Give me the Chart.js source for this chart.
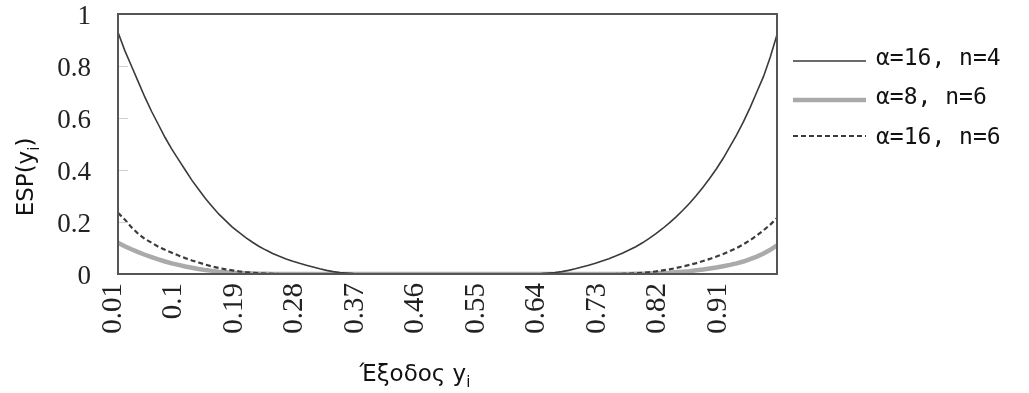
<!DOCTYPE html>
<html>
<head>
  <meta charset="utf-8">
  <script src="https://cdn.jsdelivr.net/npm/chart.js@4"></script>
  <style>
    body { margin: 0; background: #fff; }
    #wrap { width: 1029px; height: 393px; }
  </style>
</head>
<body>
<div id="wrap"><canvas id="espChart" width="1029" height="393"></canvas></div>
<script>
  // x categories: output y from 0.01 to 0.99
  const outputs = [
    '0.01','0.02','0.03','0.04','0.05','0.06','0.07','0.08','0.09','0.1',
    '0.11','0.12','0.13','0.14','0.15','0.16','0.17','0.18','0.19','0.2',
    '0.21','0.22','0.23','0.24','0.25','0.26','0.27','0.28','0.29','0.3',
    '0.31','0.32','0.33','0.34','0.35','0.36','0.37','0.38','0.39','0.4',
    '0.41','0.42','0.43','0.44','0.45','0.46','0.47','0.48','0.49','0.5',
    '0.51','0.52','0.53','0.54','0.55','0.56','0.57','0.58','0.59','0.6',
    '0.61','0.62','0.63','0.64','0.65','0.66','0.67','0.68','0.69','0.7',
    '0.71','0.72','0.73','0.74','0.75','0.76','0.77','0.78','0.79','0.8',
    '0.81','0.82','0.83','0.84','0.85','0.86','0.87','0.88','0.89','0.9',
    '0.91','0.92','0.93','0.94','0.95','0.96','0.97','0.98','0.99'
  ];

  // which category labels are printed on the x axis
  const xTickLabels = ['0.01','0.1','0.19','0.28','0.37','0.46','0.55','0.64','0.73','0.82','0.91'];
  const yTicks = [0, 0.2, 0.4, 0.6, 0.8, 1];
  const yTickLabels = ['0', '0.2', '0.4', '0.6', '0.8', '1'];

  const seriesNames = ['α=16, n=4', 'α=8, n=6', 'α=16, n=6'];

  // a=16, n=4
  const espA16n4 = [
    0.93, 0.86, 0.80, 0.74, 0.68, 0.625, 0.575, 0.525, 0.48, 0.44,
    0.40, 0.36, 0.325, 0.29, 0.26, 0.23, 0.205, 0.18, 0.16, 0.14,
    0.122, 0.106, 0.092, 0.079, 0.068, 0.058, 0.049, 0.041, 0.034, 0.027,
    0.02, 0.014, 0.009, 0.006, 0.004, 0.002, 0.001, 0, 0, 0,
    0, 0, 0, 0, 0, 0, 0, 0, 0, 0,
    0, 0, 0, 0, 0, 0, 0, 0, 0, 0,
    0, 0, 0.001, 0.002, 0.004, 0.006, 0.009, 0.014, 0.02, 0.027,
    0.034, 0.041, 0.05, 0.059, 0.069, 0.08, 0.092, 0.105, 0.12, 0.137,
    0.155, 0.175, 0.197, 0.22, 0.245, 0.272, 0.302, 0.334, 0.368, 0.405,
    0.445, 0.49, 0.535, 0.585, 0.64, 0.70, 0.76, 0.835, 0.92
  ];

  // a=8, n=6
  const espA8n6 = [
    0.12, 0.107, 0.095, 0.084, 0.074, 0.065, 0.056, 0.048, 0.041, 0.035,
    0.029, 0.024, 0.019, 0.015, 0.012, 0.009, 0.007, 0.005, 0.004, 0.003,
    0.002, 0.001, 0.001, 0, 0, 0, 0, 0, 0, 0,
    0, 0, 0, 0, 0, 0, 0, 0, 0, 0,
    0, 0, 0, 0, 0, 0, 0, 0, 0, 0,
    0, 0, 0, 0, 0, 0, 0, 0, 0, 0,
    0, 0, 0, 0, 0, 0, 0, 0, 0, 0,
    0, 0, 0, 0, 0, 0, 0, 0.001, 0.001, 0.002,
    0.003, 0.004, 0.005, 0.007, 0.009, 0.011, 0.014, 0.017, 0.021, 0.025,
    0.03, 0.035, 0.041, 0.048, 0.057, 0.067, 0.079, 0.093, 0.11
  ];

  // a=16, n=6
  const espA16n6 = [
    0.235, 0.21, 0.18, 0.155, 0.135, 0.12, 0.105, 0.093, 0.082, 0.071,
    0.061, 0.052, 0.044, 0.036, 0.029, 0.023, 0.018, 0.014, 0.01, 0.007,
    0.005, 0.003, 0.002, 0.001, 0, 0, 0, 0, 0, 0,
    0, 0, 0, 0, 0, 0, 0, 0, 0, 0,
    0, 0, 0, 0, 0, 0, 0, 0, 0, 0,
    0, 0, 0, 0, 0, 0, 0, 0, 0, 0,
    0, 0, 0, 0, 0, 0, 0, 0, 0, 0,
    0, 0, 0, 0, 0, 0.001, 0.002, 0.003, 0.005, 0.007,
    0.01, 0.014, 0.018, 0.023, 0.029, 0.035, 0.042, 0.05, 0.058, 0.067,
    0.077, 0.088, 0.10, 0.114, 0.13, 0.148, 0.168, 0.19, 0.215
  ];

  const legendFont = '23px "DejaVu Sans Mono"';
  const titleFont = '23px "DejaVu Sans"';
  const subFont = '15px "DejaVu Sans"';

  // text with a subscript part, e.g. y + i
  function drawSubText(ctx, parts, x, y) {
    let w = 0;
    parts.forEach(p => { ctx.font = p.sub ? subFont : titleFont; w += ctx.measureText(p.t).width; });
    let cx = x - w / 2;
    parts.forEach(p => {
      ctx.font = p.sub ? subFont : titleFont;
      ctx.fillText(p.t, cx, p.sub ? y + 6 : y);
      cx += ctx.measureText(p.t).width;
    });
  }

  const decorations = {
    id: 'decorations',
    afterDatasetsDraw(chart) {
      const ctx = chart.ctx;
      const a = chart.chartArea;
      const y = chart.scales.y;
      ctx.save();
      // short inner ticks on the value axis
      ctx.strokeStyle = '#cfcfcf';
      ctx.lineWidth = 1;
      yTicks.forEach(v => {
        if (v <= 0 || v >= 1) return;
        const py = Math.round(y.getPixelForValue(v)) + 0.5;
        ctx.beginPath();
        ctx.moveTo(a.left, py);
        ctx.lineTo(a.left + 10, py);
        ctx.stroke();
      });
      // box round the plot
      ctx.strokeStyle = '#555';
      ctx.lineWidth = 2;
      ctx.strokeRect(a.left, a.top, a.right - a.left, a.bottom - a.top);
      ctx.restore();
    },
    afterDraw(chart) {
      const ctx = chart.ctx;
      ctx.save();
      ctx.fillStyle = '#111';

      // legend
      const rows = [61, 100, 136];
      chart.data.datasets.forEach((ds, i) => {
        ctx.strokeStyle = ds.borderColor;
        ctx.lineWidth = ds.borderWidth;
        ctx.setLineDash(ds.borderDash || []);
        ctx.beginPath();
        ctx.moveTo(793, rows[i]);
        ctx.lineTo(866, rows[i]);
        ctx.stroke();
        ctx.setLineDash([]);
        ctx.font = legendFont;
        ctx.textBaseline = 'middle';
        ctx.fillText(ds.label, 876, rows[i] + (i === 2 ? 2 : -2));
      });

      // axis titles
      ctx.textBaseline = 'alphabetic';
      drawSubText(ctx, [{t: 'Έξοδος y'}, {t: 'i', sub: true}], 415, 381);
      ctx.translate(33, 177);
      ctx.rotate(-Math.PI / 2);
      drawSubText(ctx, [{t: 'ESP(y'}, {t: 'i', sub: true}, {t: ')'}], 0, 0);
      ctx.restore();
    }
  };

  new Chart(document.getElementById('espChart'), {
    type: 'line',
    data: {
      labels: outputs,
      datasets: [
        { label: seriesNames[0], data: espA16n4, borderColor: '#3a3a3a', borderWidth: 1.6, order: 1 },
        { label: seriesNames[1], data: espA8n6, borderColor: '#aaaaaa', borderWidth: 4.5, order: 3 },
        { label: seriesNames[2], data: espA16n6, borderColor: '#3c3c3c', borderWidth: 2.2, borderDash: [5, 3], order: 2 }
      ]
    },
    options: {
      responsive: false,
      animation: false,
      events: [],
      elements: { point: { radius: 0 }, line: { tension: 0 } },
      layout: { padding: { left: 0, right: 252, top: 14, bottom: 0 } },
      plugins: { legend: { display: false }, tooltip: { enabled: false } },
      scales: {
        x: {
          grid: { display: false, drawTicks: false },
          border: { display: false },
          ticks: {
            autoSkip: false,
            minRotation: 90,
            maxRotation: 90,
            padding: 9,
            labelOffset: -5,
            color: '#222',
            font: { family: '"Liberation Serif", serif', size: 29, lineHeight: 1 },
            callback: function (val) {
              const lab = this.getLabelForValue(val);
              return xTickLabels.includes(lab) ? lab : '';
            }
          },
          afterFit: s => { s.height = 119; s.paddingLeft = 0; s.paddingRight = 0; }
        },
        y: {
          min: 0,
          max: 1,
          grid: { display: false, drawTicks: false },
          border: { display: false },
          ticks: {
            stepSize: 0.2,
            padding: 27,
            labelOffset: 3,
            color: '#222',
            font: { family: '"Liberation Serif", serif', size: 27, lineHeight: 1 },
            callback: v => yTickLabels[yTicks.findIndex(t => Math.abs(t - v) < 1e-6)]
          },
          afterFit: s => { s.width = 118; s.paddingTop = 0; s.paddingBottom = 0; }
        }
      }
    },
    plugins: [decorations]
  });
</script>
</body>
</html>
